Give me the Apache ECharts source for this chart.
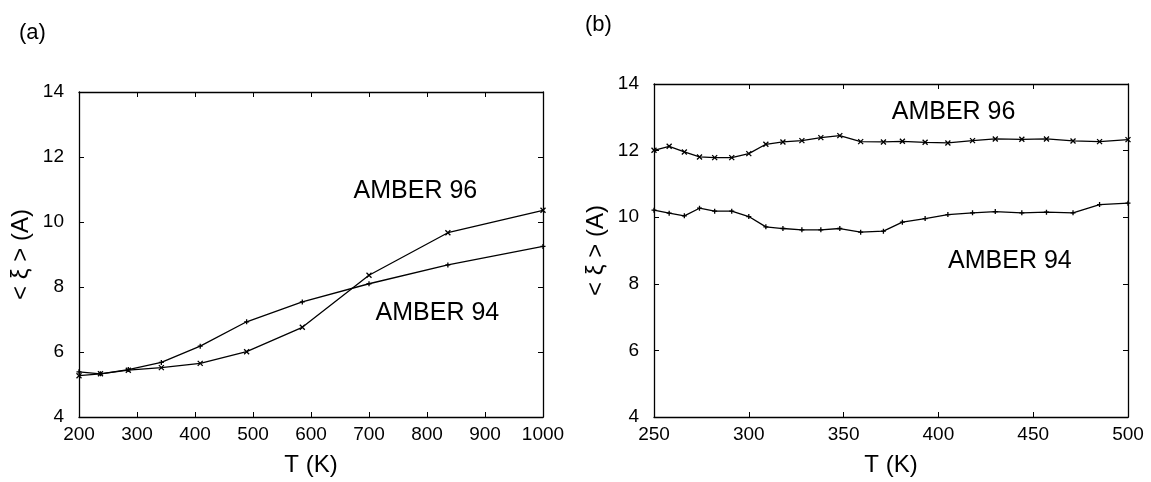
<!DOCTYPE html>
<html>
<head>
<meta charset="utf-8">
<script src="https://cdn.jsdelivr.net/npm/echarts@6/dist/echarts.min.js"></script>
<style>
html,body{margin:0;padding:0;background:#fff;}
#chart{width:1151px;height:482px;}
</style>
</head>
<body>
<div id="chart"></div>
<script>
// Panel (a): T (K) vs <xi> (A)
const tempsA = [200, 237, 285, 342, 409, 489, 585, 700, 836, 1000];
const amber96A = [5.27, 5.33, 5.44, 5.52, 5.65, 6.01, 6.76, 8.36, 9.67, 10.36];
const amber94A = [5.39, 5.33, 5.46, 5.68, 6.18, 6.93, 7.54, 8.10, 8.68, 9.25];

// Panel (b)
const tempsB = [250, 258, 266, 274, 282, 291, 300, 309, 318, 328, 338, 348, 359, 371, 381, 393, 405, 418, 430, 444, 457, 471, 485, 500];
const amber96B = [12.01, 12.13, 11.96, 11.81, 11.79, 11.79, 11.91, 12.19, 12.26, 12.30, 12.39, 12.45, 12.27, 12.26, 12.28, 12.25, 12.23, 12.30, 12.35, 12.34, 12.35, 12.29, 12.27, 12.33];
const amber94B = [10.21, 10.12, 10.04, 10.27, 10.18, 10.18, 10.02, 9.71, 9.66, 9.62, 9.62, 9.66, 9.55, 9.58, 9.85, 9.96, 10.08, 10.13, 10.17, 10.13, 10.15, 10.13, 10.38, 10.42];

// Axis ranges
const xRangeA = [200, 1000, 100];
const xRangeB = [250, 500, 50];
const yRange = [4, 14, 2];

// Text
const panelTitles = ['(a)', '(b)'];
const xTitle = 'T (K)';
const yTitle = '< ξ > (A)';
const seriesNames = ['AMBER 96', 'AMBER 94'];
// annotation anchor points in data coordinates [gridIndex, x, y, text index]
const annotations = [
  [0, 780, 10.95, 0],
  [0, 818, 7.2, 1],
  [1, 408, 13.17, 0],
  [1, 437.7, 8.67, 1]
];

const FONT = 'Liberation Sans, Arial, sans-serif';
const crossX = 'path://M0,0L10,10M0,10L10,0';
const crossPlus = 'path://M5,0L5,10M0,5L10,5';

function mkX(gridIndex, r, bottom) {
  return {
    type: 'value', gridIndex, min: r[0], max: r[1], interval: r[2],
    position: bottom ? 'bottom' : 'top',
    name: bottom ? xTitle : '', nameLocation: 'middle', nameGap: 36,
    nameTextStyle: {fontSize: 24, color: '#000', fontFamily: FONT},
    axisLine: {show: true, onZero: false, lineStyle: {color: '#000', width: 1.3}},
    axisTick: {show: true, inside: true, length: 5, lineStyle: {color: '#000', width: 1}},
    axisLabel: {show: bottom, fontSize: 19, color: '#000', fontFamily: FONT, margin: 8, formatter: v => String(v)},
    splitLine: {show: false}
  };
}
function mkY(gridIndex, r, left) {
  return {
    type: 'value', gridIndex, min: r[0], max: r[1], interval: r[2],
    position: left ? 'left' : 'right',
    name: left ? yTitle : '', nameLocation: 'middle', nameGap: 46, nameRotate: 90,
    nameTextStyle: {fontSize: 24, color: '#000', fontFamily: FONT},
    axisLine: {show: true, onZero: false, lineStyle: {color: '#000', width: 1.3}},
    axisTick: {show: true, inside: true, length: 5, lineStyle: {color: '#000', width: 1}},
    axisLabel: {show: left, fontSize: 19, color: '#000', fontFamily: FONT, margin: 15, formatter: v => String(v)},
    splitLine: {show: false}
  };
}
function mkSeries(name, xs, ys, idx, sym) {
  return {
    type: 'line', name, xAxisIndex: idx, yAxisIndex: idx,
    data: xs.map((x, i) => [x, ys[i]]),
    symbol: sym, symbolSize: 5, showSymbol: true,
    lineStyle: {color: '#000', width: 1.3},
    itemStyle: {color: '#000', borderColor: '#000', borderWidth: 1.3},
    emphasis: {disabled: true}
  };
}

const chart = echarts.init(document.getElementById('chart'), null, {renderer: 'canvas'});
chart.setOption({
  animation: false,
  backgroundColor: '#fff',
  title: [
    {text: panelTitles[0], left: 14, top: 17, textStyle: {fontSize: 22, fontWeight: 'normal', color: '#000', fontFamily: FONT}},
    {text: panelTitles[1], left: 580, top: 9, textStyle: {fontSize: 22, fontWeight: 'normal', color: '#000', fontFamily: FONT}}
  ],
  grid: [
    {left: 79, right: 608, top: 92, bottom: 65},
    {left: 654, right: 23, top: 84, bottom: 65}
  ],
  xAxis: [mkX(0, xRangeA, true), mkX(1, xRangeB, true), mkX(0, xRangeA, false), mkX(1, xRangeB, false)],
  yAxis: [mkY(0, yRange, true), mkY(1, yRange, true), mkY(0, yRange, false), mkY(1, yRange, false)],
  series: [
    mkSeries(seriesNames[0], tempsA, amber96A, 0, crossX),
    mkSeries(seriesNames[1], tempsA, amber94A, 0, crossPlus),
    mkSeries(seriesNames[0], tempsB, amber96B, 1, crossX),
    mkSeries(seriesNames[1], tempsB, amber94B, 1, crossPlus)
  ]
});

const gfx = annotations.map(a => {
  const p = chart.convertToPixel({gridIndex: a[0]}, [a[1], a[2]]);
  return {
    type: 'text', x: p[0], y: p[1],
    style: {text: seriesNames[a[3]], fontSize: 25, fill: '#000', fontFamily: FONT, align: 'center', verticalAlign: 'middle'}
  };
});
chart.setOption({graphic: gfx});
</script>
</body>
</html>
